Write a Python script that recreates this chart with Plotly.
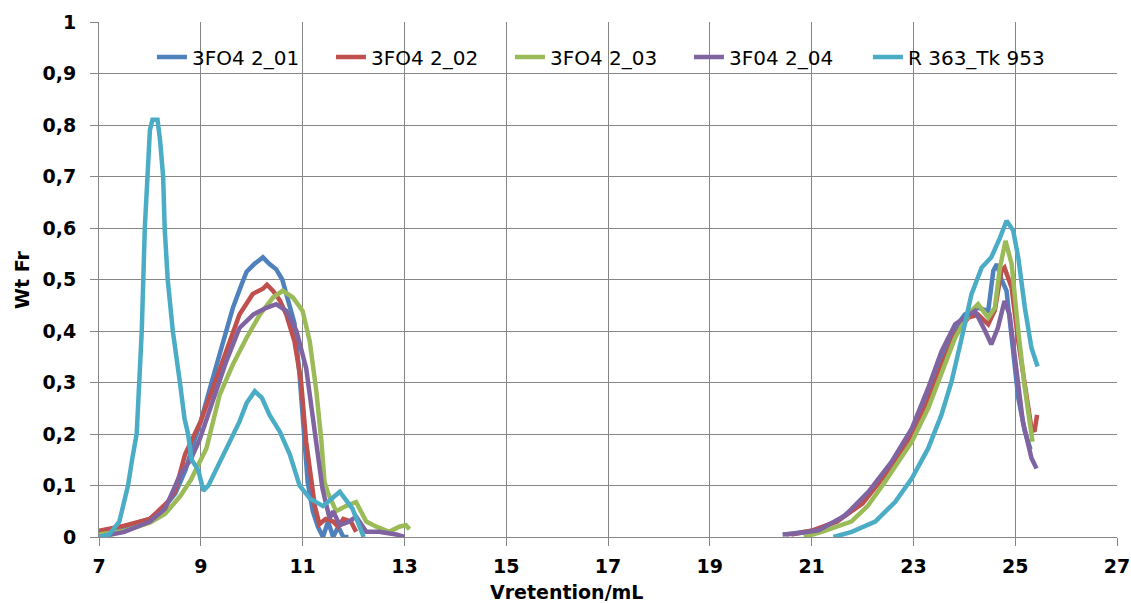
import plotly.graph_objects as go

# ---------------- data ----------------
names = ["3FO4 2_01", "3FO4 2_02", "3FO4 2_03", "3F04 2_04", "R 363_Tk 953"]
colors = ["#4F81BD", "#C0504D", "#9BBB59", "#8064A2", "#4BACC6"]

s1_x_left = [7.0, 7.5, 8.0, 8.3, 8.5, 8.7, 8.85, 9.0, 9.24, 9.44, 9.63, 9.8, 9.9, 10.05, 10.22, 10.35,
             10.48, 10.6, 10.68, 10.84, 10.94, 11.02, 11.1, 11.2, 11.3, 11.4, 11.5, 11.6, 11.7, 11.8, 11.9]
s1_y_left = [0.01, 0.02, 0.035, 0.06, 0.085, 0.13, 0.18, 0.225, 0.31, 0.38, 0.445, 0.49, 0.515, 0.53, 0.543, 0.53,
             0.52, 0.5, 0.47, 0.415, 0.315, 0.21, 0.107, 0.05, 0.02, 0.0, 0.03, 0.0, 0.02, 0.0, 0.0]
s1_x_right = [20.5, 21.0, 21.5, 22.0, 22.44, 22.97, 23.29, 23.55, 23.82, 24.01, 24.27, 24.47, 24.57, 24.64,
              24.73, 24.83, 24.96, 25.06, 25.19, 25.3]
s1_y_right = [0.005, 0.012, 0.03, 0.07, 0.124, 0.205, 0.276, 0.338, 0.406, 0.432, 0.445, 0.439, 0.517, 0.53,
              0.5, 0.478, 0.367, 0.27, 0.205, 0.17]

s2_x_left = [7.0, 7.5, 8.0, 8.35, 8.5, 8.69, 8.88, 9.0, 9.24, 9.5, 9.76, 10.02, 10.22, 10.3, 10.42, 10.55,
             10.68, 10.84, 10.97, 11.07, 11.17, 11.24, 11.33, 11.45, 11.6, 11.7, 11.8, 11.95, 12.05]
s2_y_left = [0.012, 0.022, 0.035, 0.068, 0.09, 0.16, 0.2, 0.225, 0.29, 0.36, 0.432, 0.472, 0.482, 0.49, 0.478, 0.46,
             0.432, 0.38, 0.302, 0.185, 0.107, 0.06, 0.025, 0.035, 0.03, 0.02, 0.035, 0.03, 0.01]
s2_x_right = [20.6, 21.0, 21.5, 22.0, 22.44, 22.97, 23.29, 23.55, 23.82, 24.08, 24.27, 24.47, 24.6, 24.73,
              24.79, 24.93, 25.06, 25.19, 25.32, 25.38, 25.43]
s2_y_right = [0.005, 0.012, 0.03, 0.065, 0.12, 0.198, 0.263, 0.332, 0.393, 0.426, 0.432, 0.413, 0.44, 0.517,
              0.523, 0.484, 0.38, 0.289, 0.211, 0.205, 0.237]

s3_x_left = [7.0, 7.5, 8.0, 8.3, 8.6, 8.8, 9.0, 9.11, 9.37, 9.63, 9.9, 10.16, 10.42, 10.61, 10.81, 11.0,
             11.14, 11.27, 11.37, 11.43, 11.5, 11.66, 11.85, 12.05, 12.25, 12.45, 12.7, 12.9, 13.03, 13.1]
s3_y_left = [0.005, 0.012, 0.028, 0.045, 0.08, 0.11, 0.15, 0.172, 0.276, 0.335, 0.387, 0.432, 0.465, 0.478,
             0.465, 0.439, 0.38, 0.283, 0.185, 0.107, 0.085, 0.05, 0.06, 0.068, 0.03, 0.02, 0.01, 0.02, 0.023, 0.015]
s3_x_right = [20.85, 21.2, 21.78, 22.1, 22.44, 22.97, 23.29, 23.55, 23.82, 24.01, 24.15, 24.27, 24.47, 24.6,
              24.7, 24.81, 24.93, 25.06, 25.19, 25.34]
s3_y_right = [0.0, 0.01, 0.03, 0.06, 0.107, 0.185, 0.25, 0.32, 0.387, 0.419, 0.44, 0.452, 0.426, 0.445,
              0.523, 0.575, 0.53, 0.4, 0.289, 0.185]

s4_x_left = [7.0, 7.5, 8.0, 8.3, 8.59, 8.8, 8.98, 9.24, 9.5, 9.76, 10.03, 10.29, 10.48, 10.68, 10.88, 11.07,
             11.2, 11.3, 11.39, 11.53, 11.6, 11.73, 11.92, 12.05, 12.25, 12.5, 12.84, 13.0]
s4_y_left = [0.0, 0.01, 0.03, 0.055, 0.12, 0.15, 0.19, 0.263, 0.341, 0.406, 0.432, 0.445, 0.452, 0.439, 0.4,
             0.328, 0.237, 0.153, 0.094, 0.036, 0.05, 0.023, 0.03, 0.04, 0.01, 0.01, 0.005, 0.0]
s4_x_right = [20.43, 20.8, 21.14, 21.66, 22.12, 22.57, 22.97, 23.29, 23.55, 23.82, 24.01, 24.21, 24.41, 24.53,
              24.66, 24.79, 24.89, 25.02, 25.15, 25.32, 25.42]
s4_y_right = [0.005, 0.008, 0.013, 0.042, 0.088, 0.146, 0.211, 0.289, 0.36, 0.413, 0.426, 0.439, 0.4, 0.374,
              0.406, 0.458, 0.432, 0.328, 0.224, 0.153, 0.133]

s5_x_left = [7.0, 7.2, 7.4, 7.57, 7.65, 7.74, 7.84, 7.9, 8.0, 8.05, 8.15, 8.2, 8.26, 8.29, 8.35, 8.45, 8.59,
             8.68, 8.75, 8.82, 8.95, 9.05, 9.15, 9.25, 9.44, 9.6, 9.76, 9.9, 10.06, 10.2, 10.35, 10.55, 10.75,
             10.94, 11.14, 11.4, 11.73, 11.98, 12.15, 12.2]
s5_y_left = [0.0, 0.005, 0.03, 0.1, 0.15, 0.2, 0.4, 0.6, 0.79, 0.81, 0.81, 0.77, 0.7, 0.6, 0.5, 0.4, 0.3,
             0.23, 0.2, 0.15, 0.13, 0.09, 0.1, 0.12, 0.16, 0.19, 0.224, 0.26, 0.283, 0.27, 0.237, 0.205, 0.16,
             0.1, 0.075, 0.06, 0.088, 0.055, 0.01, 0.0]
s5_x_right = [21.43, 21.79, 22.25, 22.64, 22.97, 23.29, 23.55, 23.75, 23.95, 24.14, 24.34, 24.53, 24.7, 24.83,
              24.96, 25.06, 25.19, 25.32, 25.44]
s5_y_right = [0.0, 0.01, 0.03, 0.068, 0.114, 0.172, 0.237, 0.302, 0.387, 0.471, 0.523, 0.543, 0.581, 0.614,
              0.595, 0.543, 0.445, 0.367, 0.331]

series = [
    (s1_x_left, s1_y_left, s1_x_right, s1_y_right),
    (s2_x_left, s2_y_left, s2_x_right, s2_y_right),
    (s3_x_left, s3_y_left, s3_x_right, s3_y_right),
    (s4_x_left, s4_y_left, s4_x_right, s4_y_right),
    (s5_x_left, s5_y_left, s5_x_right, s5_y_right),
]

x_ticks = [7, 9, 11, 13, 15, 17, 19, 21, 23, 25, 27]

# ---------------- figure ----------------
fig = go.Figure()
for (xl, yl, xr, yr), name, col in zip(series, names, colors):
    fig.add_trace(go.Scatter(
        x=list(xl) + [None] + list(xr),
        y=list(yl) + [None] + list(yr),
        mode="lines", name=name,
        line=dict(color=col, width=4.5),
        connectgaps=False,
    ))

grid = "#868686"
tickfont = dict(family="DejaVu Sans", size=19, color="#000", weight="bold")

fig.update_layout(
    width=1131, height=603,
    margin=dict(l=99, r=14, t=22, b=66),
    paper_bgcolor="white", plot_bgcolor="white",
    separators=", ",
    showlegend=True,
    legend=dict(
        orientation="h", x=0.052, y=0.932, xanchor="left", yanchor="middle",
        bgcolor="rgba(0,0,0,0)", font=dict(family="DejaVu Sans", size=20, color="#000"),
        entrywidth=134, entrywidthmode="pixels", itemwidth=30,
        traceorder="normal",
    ),
    xaxis=dict(
        range=[7, 27], tickmode="array", tickvals=x_ticks,
        showgrid=True, gridcolor=grid, gridwidth=1,
        showline=True, linecolor=grid, linewidth=1,
        ticks="outside", ticklen=8, tickcolor=grid, tickwidth=1,
        tickfont=tickfont, zeroline=False, ticklabelstandoff=4, automargin=False,
    ),
    yaxis=dict(
        range=[0, 1], dtick=0.1, tick0=0,
        showgrid=True, gridcolor=grid, gridwidth=1,
        showline=True, linecolor=grid, linewidth=1,
        ticks="outside", ticklen=8, tickcolor=grid, tickwidth=1,
        tickfont=tickfont, zeroline=False, ticklabelstandoff=10, automargin=False,
    ),
    annotations=[
        dict(text="Vretention/mL", xref="paper", yref="paper",
             x=(566 - 99) / 1018, y=-(592 - 537) / 515, xanchor="center", yanchor="middle",
             showarrow=False, font=dict(family="DejaVu Sans", size=19, color="#000", weight="bold")),
        dict(text="Wt Fr", xref="paper", yref="paper",
             x=-(99 - 22) / 1018, y=(537 - 280) / 515, xanchor="center", yanchor="middle",
             textangle=-90, showarrow=False,
             font=dict(family="DejaVu Sans", size=19, color="#000", weight="bold")),
    ],
)

fig.write_html("out.html")
